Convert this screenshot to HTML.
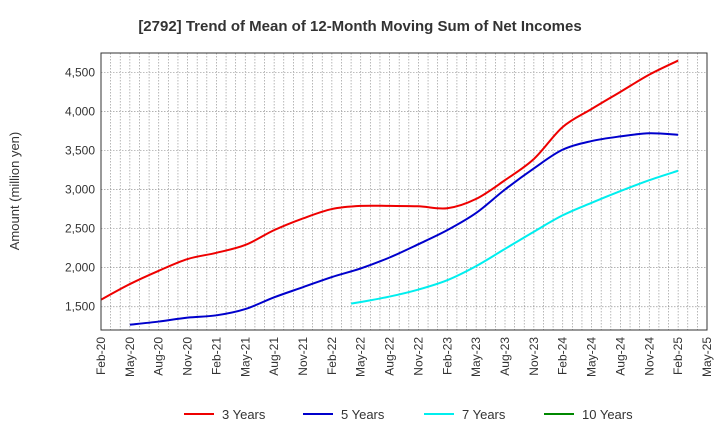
<!DOCTYPE html>
<html><head><meta charset="utf-8"><style>
body{margin:0;background:#fff;font-family:"Liberation Sans",sans-serif}
</style></head><body>
<svg width="720" height="440" xmlns="http://www.w3.org/2000/svg" font-family="Liberation Sans, sans-serif">
<text x="360" y="31" text-anchor="middle" font-size="15" font-weight="bold" fill="#333">[2792]  Trend of Mean of 12-Month Moving Sum of Net Incomes</text>
<text transform="translate(19,191) rotate(-90)" text-anchor="middle" font-size="13" fill="#333">Amount (million yen)</text>
<g id="grid"></g><g id="series"></g><g id="axes"></g>
<g id="legend"></g>
</svg>
<script>
const xLabels=["Feb-20","May-20","Aug-20","Nov-20","Feb-21","May-21","Aug-21","Nov-21","Feb-22","May-22","Aug-22","Nov-22","Feb-23","May-23","Aug-23","Nov-23","Feb-24","May-24","Aug-24","Nov-24","Feb-25","May-25"];
const yTicks=[1500,2000,2500,3000,3500,4000,4500];
const y3Months=[0,3,6,9,12,15,18,21,24,27,30,33,36,39,42,45,48,51,54,57,60];
const y3=[1590,1790,1960,2110,2190,2290,2480,2630,2750,2790,2790,2785,2760,2880,3120,3390,3800,4030,4250,4470,4650];
const y5Months=[3,6,9,12,15,18,21,24,27,30,33,36,39,42,45,48,51,54,57,60];
const y5=[1270,1310,1360,1390,1470,1620,1750,1880,1990,2130,2300,2480,2700,3000,3270,3510,3620,3680,3720,3700];
const y7Months=[26,27,30,33,36,39,42,45,48,51,54,57,60];
const y7=[1540,1560,1630,1720,1840,2020,2240,2460,2670,2830,2980,3120,3240];
const y10Months=[];const y10=[];
const L=101,R=707,T=53,B=330,yMin=1202,yMax=4747;
const xs=m=>L+(R-L)*m/63;
const ys=v=>B-(B-T)*(v-yMin)/(yMax-yMin);
const NS="http://www.w3.org/2000/svg";
function mk(t,a,p){const e=document.createElementNS(NS,t);for(const k in a)e.setAttribute(k,a[k]);p.appendChild(e);return e;}
const grid=document.getElementById('grid'),axes=document.getElementById('axes'),ser=document.getElementById('series'),leg=document.getElementById('legend');
for(let m=1;m<63;m++){const l=mk('line',{x1:xs(m),x2:xs(m),y1:T,y2:B,stroke:'#999','stroke-width':0.7,'stroke-dasharray':'1.5,1.5'},grid);

}
yTicks.forEach(v=>{const l=mk('line',{x1:L,x2:R,y1:ys(v),y2:ys(v),stroke:'#999','stroke-width':0.7,'stroke-dasharray':'1.5,1.5'},grid);


const t=mk('text',{x:L-6,y:ys(v)+4,'text-anchor':'end','font-size':12,fill:'#333'},axes);t.textContent=v.toLocaleString('en-US');

});
xLabels.forEach((s,i)=>{const x=xs(i*3);const t=mk('text',{transform:`translate(${x+4},${B+7}) rotate(-90)`,'text-anchor':'end','font-size':12,fill:'#333'},axes);t.textContent=s;

});
const fr=mk('rect',{x:L,y:T,width:R-L,height:B-T,fill:'none',stroke:'#333','stroke-width':1},axes);


function path(ms,vs){const p=ms.map((m,i)=>[xs(m),ys(vs[i])]);if(p.length<2)return '';let d=`M${p[0][0]},${p[0][1]}`;
for(let i=0;i<p.length-1;i++){const p0=p[i-1]||p[i],p1=p[i],p2=p[i+1],p3=p[i+2]||p2;
d+=` C${p1[0]+(p2[0]-p0[0])/6},${p1[1]+(p2[1]-p0[1])/6} ${p2[0]-(p3[0]-p1[0])/6},${p2[1]-(p3[1]-p1[1])/6} ${p2[0]},${p2[1]}`;}return d;}
const S=[[y3Months,y3,'#e00','3 Years','series-3-years'],[y5Months,y5,'#00c','5 Years','series-5-years'],[y7Months,y7,'#0ee','7 Years','series-7-years'],[y10Months,y10,'#080','10 Years','series-10-years']];
const lx=[184,303,424,544];
S.forEach((s,i)=>{const d=path(s[0],s[1]);if(d){const e=mk('path',{d,fill:'none',stroke:s[2],'stroke-width':2},ser);

}
const l=mk('line',{x1:lx[i],x2:lx[i]+30,y1:414,y2:414,stroke:s[2],'stroke-width':2},leg);


const t=mk('text',{x:lx[i]+38,y:419,'font-size':13,fill:'#333'},leg);t.textContent=s[3];

});
</script>
</body></html>
